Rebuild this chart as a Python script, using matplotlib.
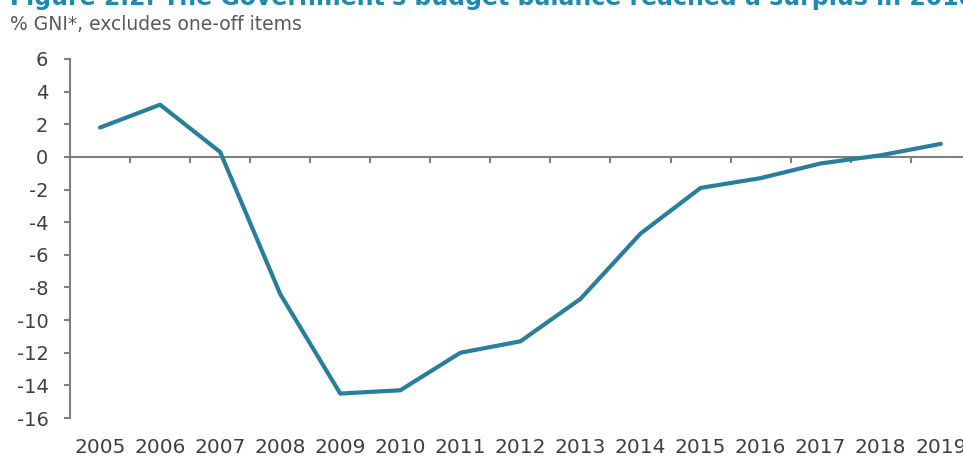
import matplotlib
matplotlib.use("Agg")
import matplotlib.pyplot as plt
import matplotlib.transforms as mtransforms
import numpy as np

# general government balance, % GNI*, excluding one-off items
years = ['2005', '2006', '2007', '2008', '2009', '2010', '2011', '2012',
         '2013', '2014', '2015', '2016', '2017', '2018', '2019']
balance = [1.8, 3.2, 0.3, -8.4, -14.5, -14.3, -12.0, -11.3,
           -8.7, -4.7, -1.9, -1.3, -0.4, 0.1, 0.8]
yticks = list(range(-16, 7, 2))

title = "Figure 2.2: The Government's budget balance reached a surplus in 2018"
subtitle = "% GNI*, excludes one-off items"

line_col = '#287f9b'
axis_col = '#808080'
text_col = '#404040'

fig = plt.figure(figsize=(9.63, 4.57), dpi=100)
ax = fig.add_axes([0.0727, 0.0853, 0.9273, 0.7856])

x = np.arange(len(years))
ax.plot(x, balance, color=line_col, lw=3, solid_capstyle='round', solid_joinstyle='round', zorder=3)

ax.set_xlim(-0.5, 14.37)
ax.set_ylim(-16, 6)
ax.set_yticks(yticks)
ax.set_yticklabels([str(v) for v in yticks])

for s in ['top', 'right']:
    ax.spines[s].set_visible(False)
ax.spines['left'].set_color(axis_col)
ax.spines['left'].set_linewidth(1.5)
ax.spines['bottom'].set_position(('data', 0))
ax.spines['bottom'].set_color(axis_col)
ax.spines['bottom'].set_linewidth(1.5)

ax.tick_params(axis='y', direction='out', length=4.5, width=1.5, color=axis_col,
               labelcolor=text_col, labelsize=14, pad=11)
# x ticks sit on the category boundaries, labels go below the plot
ax.set_xticks(np.arange(0.5, len(years) - 0.5, 1))
ax.tick_params(axis='x', direction='out', length=4.5, width=1.5, color=axis_col,
               labelbottom=False)

trans = mtransforms.blended_transform_factory(ax.transData, ax.transAxes)
for i, yr in enumerate(years):
    ax.text(i, -0.081, yr, transform=trans, ha='center', va='center',
            fontsize=14.5, color=text_col)

fig.text(0.0104, 1 - 5 / 457, title, ha='left', va='baseline',
         fontsize=17, fontweight='bold', color='#1a8bb3')
fig.text(0.0104, 1 - 25 / 457, subtitle, ha='left', va='center',
         fontsize=13.5, color='#595959')

fig.savefig('out.png', dpi=100)
